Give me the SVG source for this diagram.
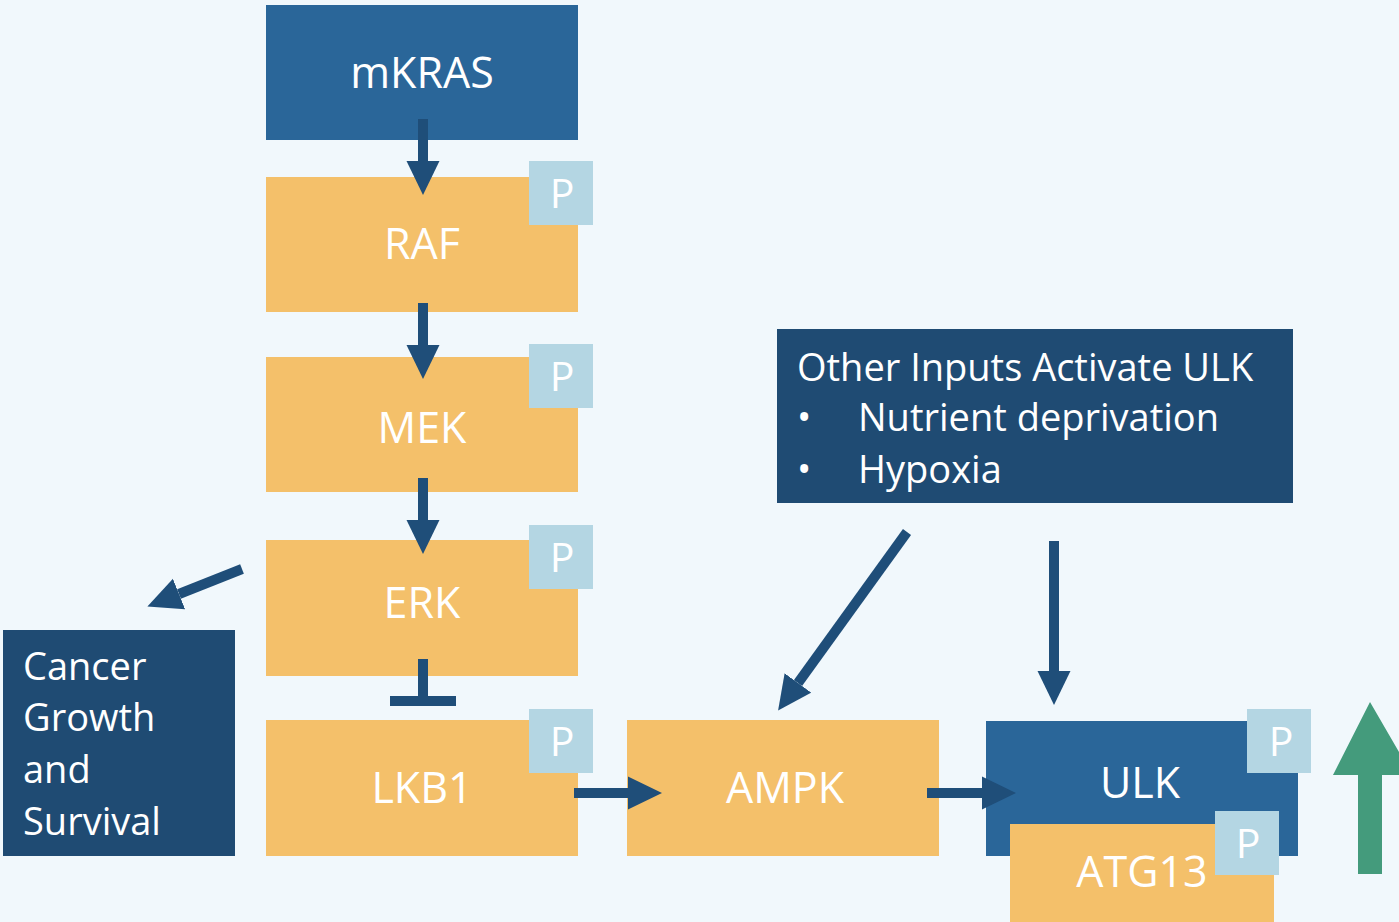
<svg xmlns="http://www.w3.org/2000/svg" width="1399" height="922" viewBox="0 0 1399 922">
<style>
.t{font-family:"Open Sans","Liberation Sans",sans-serif;fill:#fff}
.lbl{font-size:43px;text-anchor:middle}
.p{font-size:41px;text-anchor:middle}
.txt{font-size:38px}
.blue{fill:#2A6699}
.dark{fill:#1F4B73}
.or{fill:#F4C06A}
.pb{fill:#B4D6E3}
.c{stroke:#1F4E79;stroke-width:10;fill:none}
</style>
<defs>
<marker id="ah" markerUnits="userSpaceOnUse" markerWidth="34" markerHeight="34" viewBox="0 -16 33 32" refX="0" refY="0" orient="auto">
<path d="M0,-16 L33,0 L0,16 Z" fill="#1F4E79"/>
</marker>
</defs>
<rect width="1399" height="922" fill="#F1F8FC"/>
<g id="mkras"><rect class="blue" x="266" y="5" width="312" height="135"/><text class="t lbl" x="422" y="88">mKRAS</text></g>
<g id="raf"><rect class="or" x="266" y="177" width="312" height="135"/><text class="t lbl" x="422" y="259">RAF</text><rect class="pb" x="529" y="161" width="64" height="64"/><text class="t p" x="562" y="208">P</text></g>
<g id="mek"><rect class="or" x="266" y="357" width="312" height="135"/><text class="t lbl" x="422" y="443">MEK</text><rect class="pb" x="529" y="344" width="64" height="64"/><text class="t p" x="562" y="391">P</text></g>
<g id="erk"><rect class="or" x="266" y="540" width="312" height="136"/><text class="t lbl" x="422" y="618">ERK</text><rect class="pb" x="529" y="525" width="64" height="64"/><text class="t p" x="562" y="572">P</text></g>
<g id="lkb1"><rect class="or" x="266" y="720" width="312" height="136"/><text class="t lbl" x="422" y="803">LKB1</text><rect class="pb" x="529" y="709" width="64" height="64"/><text class="t p" x="562" y="756">P</text></g>
<g id="ampk"><rect class="or" x="627" y="720" width="312" height="136"/><text class="t lbl" x="785" y="803">AMPK</text></g>
<g id="ulk"><rect class="blue" x="986" y="721" width="312" height="135"/><text class="t lbl" x="1140" y="798">ULK</text><rect class="pb" x="1247" y="709" width="64" height="64"/><text class="t p" x="1281" y="756">P</text></g>
<g id="atg13"><rect class="or" x="1010" y="824" width="264" height="98"/><text class="t lbl" x="1142" y="887">ATG13</text><rect class="pb" x="1215" y="811" width="64" height="64"/><text class="t p" x="1248" y="858">P</text></g>
<g id="other"><rect class="dark" x="777" y="329" width="516" height="174"/>
<text class="t txt" x="797" y="381">Other Inputs Activate ULK</text>
<text class="t txt" x="797" y="431">•</text><text class="t txt" x="858" y="431">Nutrient deprivation</text>
<text class="t txt" x="797" y="483">•</text><text class="t txt" x="858" y="483">Hypoxia</text></g>
<g id="cancer"><rect class="dark" x="3" y="630" width="232" height="226"/>
<text class="t txt" x="23" y="680">Cancer</text><text class="t txt" x="23" y="731">Growth</text><text class="t txt" x="23" y="783">and</text><text class="t txt" x="23" y="835">Survival</text></g>
<g id="connectors">
<line class="c" x1="423" y1="119" x2="423" y2="161" marker-end="url(#ah)"/>
<line class="c" x1="423" y1="303" x2="423" y2="345" marker-end="url(#ah)"/>
<line class="c" x1="423" y1="478" x2="423" y2="520" marker-end="url(#ah)"/>
<line class="c" x1="423" y1="659" x2="423" y2="701"/>
<line class="c" x1="390" y1="701" x2="456" y2="701"/>
<line class="c" x1="574" y1="793" x2="628" y2="793" marker-end="url(#ah)"/>
<line class="c" x1="927" y1="793" x2="982" y2="793" marker-end="url(#ah)"/>
<line class="c" x1="1054" y1="541" x2="1054" y2="671" marker-end="url(#ah)"/>
<line class="c" x1="907" y1="532" x2="798" y2="683" marker-end="url(#ah)"/>
<line class="c" x1="242" y1="569" x2="179" y2="594" marker-end="url(#ah)"/>
<polygon points="1370,702 1399,752 1399,775 1382,775 1382,874 1358,874 1358,775 1333,775" fill="#449B7C"/>
</g>
</svg>
